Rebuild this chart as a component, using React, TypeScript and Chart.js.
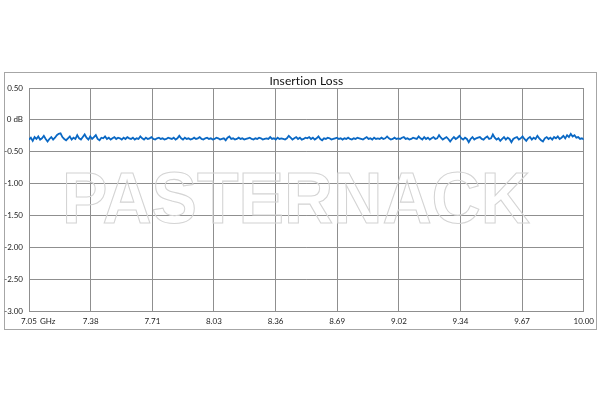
import React, { useEffect, useRef } from "react";
import { Chart, registerables } from "chart.js";

Chart.register(...registerables);

const TITLE = "Insertion Loss";
const WATERMARK = "PASTERNACK";
const X_UNIT = "GHz";
const FREQ_START = 7.05;
const FREQ_STOP = 10.0;
const X_TICKS = [7.05, 7.378, 7.706, 8.033, 8.361, 8.689, 9.017, 9.344, 9.672, 10.0];
const X_TICK_LABELS = ["7.05", "7.38", "7.71", "8.03", "8.36", "8.69", "9.02", "9.34", "9.67", "10.00"];
const Y_MIN = -3;
const Y_MAX = 0.5;
const Y_STEP = 0.5;

const LOSS_DB = [
  -0.31, -0.28, -0.33, -0.27, -0.30, -0.26, -0.31, -0.29, -0.25, -0.30,
  -0.34, -0.30, -0.27, -0.31, -0.28, -0.24, -0.22, -0.21, -0.27, -0.30,
  -0.32, -0.29, -0.26, -0.31, -0.28, -0.30, -0.24, -0.29, -0.31, -0.27,
  -0.23, -0.28, -0.31, -0.26, -0.30, -0.27, -0.24, -0.30, -0.32, -0.28,
  -0.29, -0.26, -0.30, -0.28, -0.31, -0.29, -0.27, -0.30, -0.28, -0.29,
  -0.31, -0.28, -0.30, -0.27, -0.29, -0.30, -0.28, -0.31, -0.29, -0.30,
  -0.26, -0.29, -0.31, -0.28, -0.30, -0.29, -0.27, -0.30, -0.31, -0.29,
  -0.28, -0.30, -0.29, -0.31, -0.30, -0.28, -0.29, -0.30, -0.28, -0.31,
  -0.29, -0.25, -0.29, -0.31, -0.28, -0.30, -0.29, -0.31, -0.30, -0.28,
  -0.30, -0.29, -0.27, -0.30, -0.31, -0.29, -0.28, -0.30, -0.29, -0.31,
  -0.30, -0.28, -0.29, -0.31, -0.30, -0.29, -0.32, -0.28, -0.26, -0.30,
  -0.29, -0.31, -0.30, -0.28, -0.30, -0.29, -0.31, -0.30, -0.29, -0.28,
  -0.30, -0.31, -0.29, -0.30, -0.28, -0.29, -0.31, -0.30, -0.29, -0.30,
  -0.27, -0.30, -0.29, -0.31, -0.28, -0.30, -0.29, -0.30, -0.31, -0.29,
  -0.25, -0.28, -0.31, -0.29, -0.27, -0.30, -0.28, -0.31, -0.30, -0.28,
  -0.29, -0.27, -0.30, -0.28, -0.31, -0.29, -0.26, -0.30, -0.32, -0.29,
  -0.30, -0.28, -0.29, -0.31, -0.30, -0.29, -0.28, -0.30, -0.29, -0.31,
  -0.29, -0.30, -0.28, -0.30, -0.31, -0.29, -0.30, -0.28, -0.29, -0.30,
  -0.31, -0.29, -0.27, -0.30, -0.29, -0.31, -0.28, -0.30, -0.29, -0.30,
  -0.28, -0.30, -0.29, -0.26, -0.29, -0.31, -0.30, -0.28, -0.30, -0.29,
  -0.30, -0.28, -0.27, -0.30, -0.29, -0.31, -0.30, -0.28, -0.29, -0.30,
  -0.26, -0.29, -0.31, -0.27, -0.30, -0.28, -0.31, -0.29, -0.27, -0.30,
  -0.29, -0.24, -0.28, -0.31, -0.29, -0.27, -0.30, -0.34, -0.30, -0.27,
  -0.30, -0.28, -0.25, -0.29, -0.31, -0.28, -0.30, -0.35, -0.30, -0.27,
  -0.31, -0.29, -0.28, -0.27, -0.30, -0.31, -0.28, -0.26, -0.30, -0.29,
  -0.23, -0.28, -0.31, -0.29, -0.33, -0.30, -0.27, -0.31, -0.28, -0.30,
  -0.35, -0.30, -0.28, -0.27, -0.31, -0.29, -0.26, -0.30, -0.33, -0.29,
  -0.27, -0.31, -0.28, -0.30, -0.25, -0.29, -0.32, -0.34, -0.29, -0.27,
  -0.30, -0.28, -0.31, -0.27, -0.29, -0.26, -0.30, -0.28, -0.25, -0.29,
  -0.24, -0.27, -0.22, -0.26, -0.24, -0.28, -0.27, -0.30, -0.29, -0.31,
];

const FONT = "Lato, 'Open Sans', sans-serif";

const decorPlugin = {
  id: "decor",
  beforeDraw(chart: any) {
    const ctx = chart.ctx;
    ctx.save();
    ctx.fillStyle = "#ffffff";
    ctx.fillRect(0, 0, chart.width, chart.height);
    ctx.strokeStyle = "#a6a6a6";
    ctx.lineWidth = 1;
    ctx.strokeRect(4.5, 72.5, 592, 257);
    ctx.restore();
  },
  beforeDatasetsDraw(chart: any) {
    const ctx = chart.ctx;
    const a = chart.chartArea;
    ctx.save();
    ctx.font = "bold 72px 'Liberation Sans', Arial, sans-serif";
    const w = ctx.measureText(WATERMARK).width;
    const targetW = 468;
    const cx = 296;
    ctx.translate(cx, 223);
    ctx.scale(targetW / w, 1);
    ctx.textAlign = "center";
    ctx.textBaseline = "alphabetic";
    ctx.strokeStyle = "#d4d4d4";
    ctx.lineWidth = 1.1;
    ctx.strokeText(WATERMARK, 0, 0);
    ctx.restore();

    ctx.save();
    ctx.fillStyle = "#111111";
    ctx.font = `12px ${FONT}`;
    (ctx as any).letterSpacing = "0.1px";
    ctx.textAlign = "center";
    ctx.textBaseline = "middle";
    ctx.fillText(TITLE, (a.left + a.right) / 2, 81);
    (ctx as any).letterSpacing = "0px";
    ctx.font = `8px ${FONT}`;
    ctx.textAlign = "left";
    ctx.fillStyle = "#222222";
    ctx.fillText(X_UNIT, a.left + 11, a.bottom + 10);
    ctx.restore();
  },
};

export default function App() {
  const ref = useRef<HTMLCanvasElement | null>(null);

  useEffect(() => {
    if (!ref.current) return;
    const n = LOSS_DB.length;
    const points = LOSS_DB.map((v, i) => ({
      x: FREQ_START + ((FREQ_STOP - FREQ_START) * i) / (n - 1),
      y: v,
    }));
    const chart = new Chart(ref.current, {
      type: "line",
      data: {
        datasets: [
          {
            data: points,
            borderColor: "#0a68c4",
            borderWidth: 1.8,
            pointRadius: 0,
            tension: 0,
            fill: false,
          },
        ],
      },
      options: {
        responsive: false,
        animation: false,
        layout: { padding: { left: 0, right: 16, top: 88, bottom: 69 } },
        plugins: {
          legend: { display: false },
          title: { display: false },
          tooltip: { enabled: false },
        },
        scales: {
          x: {
            type: "linear",
            min: FREQ_START,
            max: FREQ_STOP,
            afterBuildTicks: (scale: any) => {
              scale.ticks = X_TICKS.map((v) => ({ value: v }));
            },
            afterFit: (scale: any) => {
              scale.height = 20;
            },
            grid: { color: "#8f8f8f", lineWidth: 1, drawTicks: false },
            border: { color: "#8f8f8f", width: 1 },
            ticks: {
              autoSkip: false,
              maxRotation: 0,
              padding: 6,
              color: "#222222",
              font: { family: FONT, size: 8 },
              callback: (_v: any, i: number) => X_TICK_LABELS[i],
            },
          },
          y: {
            type: "linear",
            min: Y_MIN,
            max: Y_MAX,
            afterFit: (scale: any) => {
              scale.width = 29;
            },
            grid: { color: "#8f8f8f", lineWidth: 1, drawTicks: false },
            border: { color: "#8f8f8f", width: 1 },
            ticks: {
              stepSize: Y_STEP,
              padding: 6,
              color: "#222222",
              font: { family: FONT, size: 8 },
              callback: (v: any) => (Math.abs(v) < 1e-9 ? "0 dB" : Number(v).toFixed(2)),
            },
          },
        },
      },
      plugins: [decorPlugin],
    });
    return () => chart.destroy();
  }, []);

  return (
    <div style={{ position: "absolute", left: 0, top: 0, width: 600, height: 400, background: "#fff" }}>
      <canvas ref={ref} width={600} height={400} />
    </div>
  );
}
